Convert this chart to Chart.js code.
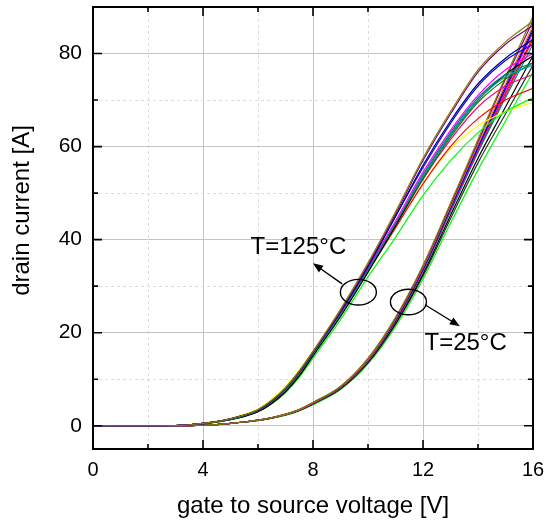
<!DOCTYPE html>
<html>
<head>
<meta charset="utf-8">
<script src="https://cdn.jsdelivr.net/npm/chart.js@4/dist/chart.umd.min.js"></script>
<style>
html, body { margin: 0; padding: 0; background: #fff; }
#wrap { width: 546px; height: 521px; }
</style>
</head>
<body>
<div id="wrap"><canvas id="c" width="546" height="521"></canvas></div>
<script>
// gate-source voltage samples [V]
const vgs = [0, 2, 3, 3.5, 4, 4.5, 5, 5.5, 6, 6.5, 7, 7.5, 8, 9, 10, 11, 12, 13, 14, 15, 16];
const xTicks = [0, 4, 8, 12, 16];
const yTicks = [0, 20, 40, 60, 80];

// drain current [A], T = 125 °C
const olive125   = [0, 0, 0.05, 0.2, 0.5, 0.9, 1.5, 2.3, 3.5, 5.5, 8.2, 11.8, 16, 25, 35, 46, 57.5, 67.5, 76.5, 82.5, 87];
const purple125  = [0, 0, 0.05, 0.2, 0.5, 0.9, 1.5, 2.3, 3.4, 5.4, 8.1, 11.6, 15.8, 24.7, 34.6, 45.5, 57, 67, 76, 82, 86];
const navy125    = [0, 0, 0.05, 0.2, 0.5, 0.9, 1.5, 2.3, 3.4, 5.3, 8, 11.5, 15.7, 24.4, 34.2, 45, 56, 65.5, 73.5, 79, 83];
const blue125    = [0, 0, 0.05, 0.2, 0.5, 0.9, 1.5, 2.3, 3.4, 5.4, 8.1, 11.7, 15.9, 24.6, 34.4, 45, 55.5, 65, 73, 78.5, 82];
const magenta125 = [0, 0, 0.05, 0.2, 0.5, 0.9, 1.5, 2.3, 3.4, 5.3, 8, 11.5, 15.7, 24.3, 34, 44, 54.5, 63.5, 71, 76.5, 80];
const teal125    = [0, 0, 0.05, 0.2, 0.5, 0.9, 1.4, 2.2, 3.3, 5.2, 7.8, 11.3, 15.5, 24, 33.7, 43.5, 54, 63, 70.5, 75.5, 78];
const cyan125    = [0, 0, 0.05, 0.2, 0.5, 0.9, 1.4, 2.2, 3.3, 5.2, 7.8, 11.3, 15.5, 24, 33.6, 43.5, 53.5, 62.5, 70, 75, 77.5];
const black125   = [0, 0, 0.05, 0.2, 0.4, 0.8, 1.3, 2, 3, 4.8, 7.3, 10.7, 15, 23.5, 33, 43, 53.5, 62.5, 70, 75.5, 79.5];
const dgreen125  = [0, 0, 0.05, 0.2, 0.4, 0.8, 1.3, 2, 3.1, 4.9, 7.4, 10.8, 15.1, 23.6, 33.1, 43, 53, 62, 69.5, 74.5, 78];
const pink125    = [0, 0, 0.05, 0.2, 0.5, 0.9, 1.4, 2.2, 3.3, 5.2, 7.8, 11.3, 15.5, 24, 33.5, 43, 53, 61.5, 68.5, 73, 75.5];
const red125     = [0, 0, 0.05, 0.2, 0.5, 0.9, 1.4, 2.2, 3.3, 5.2, 7.8, 11.2, 15.4, 23.8, 33.2, 42.5, 52, 60, 66, 70, 72.5];
const green125   = [0, 0, 0.05, 0.2, 0.4, 0.8, 1.3, 2, 3, 4.7, 7.1, 10.4, 14.5, 22.8, 32, 40.5, 49.5, 57, 63, 67.5, 70.5];
const yellow125  = [0, 0, 0.05, 0.25, 0.6, 1, 1.6, 2.5, 3.6, 5.7, 8.4, 12, 16, 24.5, 33.8, 43, 52, 59.5, 64.5, 67.5, 69.5];

// drain current [A], T = 25 °C
const olive25   = [0, 0, 0, 0.02, 0.1, 0.25, 0.5, 0.8, 1.2, 1.75, 2.5, 3.5, 5, 8.5, 14.5, 23.3, 34.5, 47.8, 61.5, 75, 88];
const purple25  = [0, 0, 0, 0.02, 0.1, 0.25, 0.5, 0.8, 1.2, 1.75, 2.5, 3.5, 5, 8.4, 14.4, 23.1, 34.3, 47.5, 61, 74.5, 87];
const orange25  = [0, 0, 0, 0.02, 0.1, 0.25, 0.5, 0.8, 1.2, 1.7, 2.4, 3.4, 4.9, 8.3, 14.2, 22.9, 34, 47.2, 60.5, 73.5, 86];
const blue25    = [0, 0, 0, 0.02, 0.1, 0.25, 0.5, 0.8, 1.2, 1.7, 2.4, 3.4, 4.9, 8.3, 14.2, 22.8, 33.8, 47, 60, 73, 85.5];
const navy25    = [0, 0, 0, 0.02, 0.1, 0.25, 0.5, 0.8, 1.2, 1.7, 2.4, 3.4, 4.8, 8.2, 14.1, 22.6, 33.6, 46.7, 59.8, 72.5, 85];
const magenta25 = [0, 0, 0, 0.02, 0.1, 0.25, 0.5, 0.8, 1.2, 1.7, 2.4, 3.4, 4.8, 8.2, 14, 22.5, 33.5, 46.5, 59.5, 72, 84.5];
const red25     = [0, 0, 0, 0.02, 0.1, 0.25, 0.5, 0.8, 1.2, 1.7, 2.4, 3.4, 4.8, 8.2, 14, 22.5, 33.5, 46.5, 59.3, 71.5, 83.5];
const teal25    = [0, 0, 0, 0.02, 0.1, 0.25, 0.5, 0.8, 1.2, 1.7, 2.4, 3.4, 4.8, 8.1, 13.9, 22.3, 33.2, 46, 58.8, 70.5, 82];
const black25   = [0, 0, 0, 0.02, 0.1, 0.25, 0.5, 0.8, 1.15, 1.65, 2.3, 3.3, 4.7, 8, 13.7, 22, 32.6, 45.2, 57.5, 68.5, 79.5];
const gray25    = [0, 0, 0, 0.02, 0.1, 0.25, 0.5, 0.8, 1.15, 1.65, 2.3, 3.3, 4.7, 7.9, 13.5, 21.8, 32.2, 44.5, 56.5, 67, 77.5];
const green25   = [0, 0, 0, 0.02, 0.1, 0.22, 0.45, 0.75, 1.1, 1.6, 2.2, 3.2, 4.5, 7.8, 13.3, 21.3, 31.5, 43.5, 55, 65.5, 76];
const pink25    = [0, 0, 0, 0.02, 0.1, 0.25, 0.5, 0.8, 1.2, 1.7, 2.4, 3.4, 4.8, 8.2, 14, 22.5, 33.4, 46.3, 59, 71, 83];

const curves = [
  ['#808000', olive125], ['#800080', purple125], ['#000080', navy125], ['#0000ff', blue125],
  ['#ff00ff', magenta125], ['#008080', teal125], ['#00a0a0', cyan125], ['#000000', black125],
  ['#008000', dgreen125], ['#ff0080', pink125], ['#ff0000', red125], ['#00ff00', green125],
  ['#ffff00', yellow125],
  ['#808000', olive25], ['#800080', purple25], ['#ff8000', orange25], ['#0000ff', blue25],
  ['#000080', navy25], ['#ff00ff', magenta25], ['#ff0000', red25], ['#008080', teal25],
  ['#000000', black25], ['#333333', gray25], ['#00ff00', green25], ['#ff0080', pink25]
];

const FONT = '"Liberation Sans", Arial, sans-serif';

function arrow(ctx, x0, y0, x1, y1) {
  const a = Math.atan2(y1 - y0, x1 - x0);
  const len = 10, hw = 4;
  ctx.beginPath();
  ctx.moveTo(x0, y0);
  ctx.lineTo(x1 - Math.cos(a) * len * 0.8, y1 - Math.sin(a) * len * 0.8);
  ctx.stroke();
  ctx.beginPath();
  ctx.moveTo(x1, y1);
  ctx.lineTo(x1 - Math.cos(a) * len - Math.sin(a) * hw, y1 - Math.sin(a) * len + Math.cos(a) * hw);
  ctx.lineTo(x1 - Math.cos(a) * len + Math.sin(a) * hw, y1 - Math.sin(a) * len - Math.cos(a) * hw);
  ctx.closePath();
  ctx.fill();
}

// frame with inward ticks on all four sides
const frame = {
  id: 'frame',
  afterDatasetsDraw(chart) {
    const { ctx, chartArea: a, scales: { x, y } } = chart;
    ctx.save();
    ctx.strokeStyle = '#000';
    ctx.lineWidth = 1.6;
    ctx.beginPath();
    x.ticks.forEach(t => {
      const p = x.getPixelForValue(t.value);
      const len = xTicks.includes(t.value) ? 9 : 5;
      ctx.moveTo(p, a.bottom); ctx.lineTo(p, a.bottom - len);
      ctx.moveTo(p, a.top); ctx.lineTo(p, a.top + len);
    });
    y.ticks.forEach(t => {
      const p = y.getPixelForValue(t.value);
      const len = yTicks.includes(t.value) ? 9 : 5;
      ctx.moveTo(a.left, p); ctx.lineTo(a.left + len, p);
      ctx.moveTo(a.right, p); ctx.lineTo(a.right - len, p);
    });
    ctx.stroke();
    ctx.lineWidth = 2;
    ctx.strokeRect(a.left, a.top, a.right - a.left, a.bottom - a.top);
    ctx.restore();
  }
};

// ellipses, arrows and temperature labels
const notes = {
  id: 'notes',
  afterDatasetsDraw(chart) {
    const { ctx, scales: { x, y } } = chart;
    const px = v => x.getPixelForValue(v);
    const py = v => y.getPixelForValue(v);
    ctx.save();
    ctx.strokeStyle = '#000';
    ctx.fillStyle = '#000';
    ctx.lineWidth = 1.4;
    [[9.65, 28.7], [11.47, 26.6]].forEach(([cx, cy]) => {
      ctx.beginPath();
      ctx.ellipse(px(cx), py(cy), 18, 12.8, 0, 0, Math.PI * 2);
      ctx.stroke();
    });
    arrow(ctx, px(9.06), py(30.5), px(8.0), py(34.9));
    arrow(ctx, px(12.07), py(26.0), px(13.34), py(21.4));
    ctx.font = '24px ' + FONT;
    ctx.textAlign = 'center';
    ctx.textBaseline = 'middle';
    ctx.fillText('T=125°C', px(7.47), py(38.3));
    ctx.fillText('T=25°C', px(13.55), py(17.7));
    ctx.translate(22.5, 210.5);
    ctx.rotate(-Math.PI / 2);
    ctx.fillText('drain current [A]', 0, 0);
    ctx.restore();
  }
};

const stepTicks = (from, to, step) => {
  const out = [];
  for (let v = from; v <= to; v += step) out.push({ value: v });
  return out;
};

new Chart(document.getElementById('c'), {
  type: 'line',
  data: {
    datasets: curves.map(([color, vals]) => ({
      data: vgs.map((v, i) => ({ x: v, y: vals[i] })),
      borderColor: color,
      borderWidth: 1.2,
      pointRadius: 0,
      fill: false,
      cubicInterpolationMode: 'monotone'
    }))
  },
  options: {
    responsive: false,
    animation: false,
    devicePixelRatio: 1,
    layout: { padding: { top: 7, right: 13, left: 0, bottom: 0 } },
    plugins: { legend: { display: false }, tooltip: { enabled: false } },
    scales: {
      x: {
        type: 'linear',
        min: 0,
        max: 16,
        afterBuildTicks: s => { s.ticks = stepTicks(0, 16, 2); },
        afterFit: s => { s.height = 72; s.paddingLeft = 0; s.paddingRight = 0; },
        ticks: {
          autoSkip: false,
          maxRotation: 0,
          padding: 9,
          color: '#000',
          font: { family: FONT, size: 20 },
          callback: v => xTicks.includes(v) ? String(v) : ''
        },
        grid: {
          drawTicks: false,
          lineWidth: 1,
          color: c => xTicks.includes(c.tick.value) ? '#c4c4c4' : '#dcdcdc'
        },
        border: { display: false, dash: c => (c.tick && xTicks.includes(c.tick.value)) ? [] : [3, 3] },
        title: {
          display: true,
          text: 'gate to source voltage [V]',
          color: '#000',
          font: { family: FONT, size: 24 },
          padding: { top: 0, bottom: 0 }
        }
      },
      y: {
        min: -5,
        max: 90,
        afterBuildTicks: s => { s.ticks = stepTicks(0, 80, 10); },
        afterFit: s => { s.width = 93; s.paddingTop = 0; s.paddingBottom = 0; },
        ticks: {
          autoSkip: false,
          padding: 11,
          color: '#000',
          font: { family: FONT, size: 21 },
          callback: v => yTicks.includes(v) ? String(v) : ''
        },
        grid: {
          drawTicks: false,
          lineWidth: 1,
          color: c => yTicks.includes(c.tick.value) ? '#c4c4c4' : '#dcdcdc'
        },
        border: { display: false, dash: c => (c.tick && yTicks.includes(c.tick.value)) ? [] : [3, 3] }
      }
    }
  },
  plugins: [frame, notes]
});
</script>
</body>
</html>
